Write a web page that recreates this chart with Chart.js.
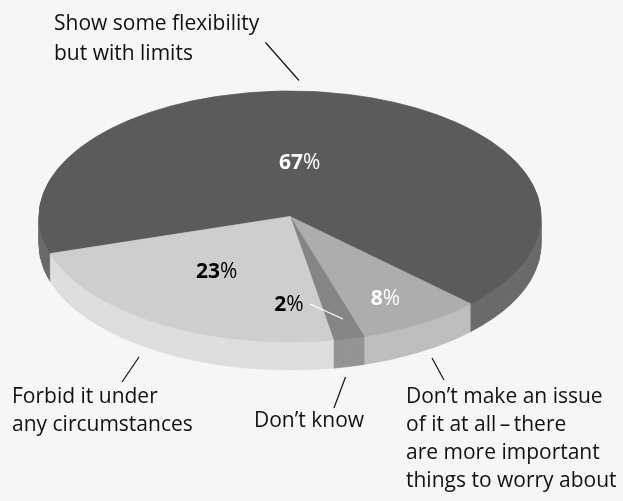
<!DOCTYPE html>
<html>
<head>
<meta charset="utf-8">
<script src="https://cdn.jsdelivr.net/npm/chart.js@4.4.1/dist/chart.umd.min.js"></script>
<style>
  html, body { margin: 0; padding: 0; background: #f6f6f6; }
  #chart { display: block; }
</style>
</head>
<body>
<canvas id="chart" width="623" height="501"></canvas>
<script>
// answers, in the order they are drawn (clockwise)
var answers = [
  'Show some flexibility but with limits',
  'Don’t make an issue of it at all – there are more important things to worry about',
  'Don’t know',
  'Forbid it under any circumstances'
];
var shares = [67, 8, 2, 23];
var topColours = ['#5b5b5b', '#adadad', '#858585', '#cecece'];
var sideColours = ['#6b6b6b', '#bebebe', '#949494', '#dedede'];
var pctColours = ['#ffffff', '#ffffff', '#000000', '#000000'];

// outside captions, one line per entry
var captionLines = [
  ['Show some flexibility', 'but with limits'],
  ['Don’t make an issue', 'of it at all\u2009–\u2009there', 'are more important', 'things to worry about'],
  ['Don’t know'],
  ['Forbid it under', 'any circumstances']
];

// layout bits
var FLATTEN = 0.5;
var DEPTH = 28;
var FONT = '"Open Sans", sans-serif';
// percent label spots, as fractions of the pie radius (x) and flattened radius (y)
var pctSpots = [[0.039, -0.375], [0.380, 0.705], [-0.004, 0.751], [-0.292, 0.492]];
var captionSpots = [[54, 30], [406, 403], [254, 427], [12, 403]];
var captionGap = [29.5, 28, 28, 27.5];
var leaders = [[265.5, 42.5, 299, 80.5], [432, 358, 444, 380], [345.5, 377, 334, 408], [139, 357, 122, 382]];

function squash(ctx, cy) {
  ctx.translate(0, cy);
  ctx.scale(1, FLATTEN);
  ctx.translate(0, -cy);
}

var tiltPlugin = {
  id: 'tilt',
  beforeDatasetsDraw: function(chart) {
    var ctx = chart.ctx;
    var arcs = chart.getDatasetMeta(0).data;
    var cy = arcs[0].y;
    // stack copies of the slices downward to make the rim
    for (var d = DEPTH; d > 0; d--) {
      ctx.save();
      ctx.translate(0, d);
      squash(ctx, cy);
      arcs.forEach(function(arc, i) {
        var side = Object.create(arc);
        side.options = Object.assign({}, arc.options, {
          backgroundColor: sideColours[i],
          borderColor: sideColours[i]
        });
        arc.draw.call(side, ctx);
      });
      ctx.restore();
    }
    ctx.save();
    squash(ctx, cy);
  },
  afterDatasetsDraw: function(chart) {
    var ctx = chart.ctx;
    ctx.restore();

    var arcs = chart.getDatasetMeta(0).data;
    var cx = arcs[0].x, cy = arcs[0].y, r = arcs[0].outerRadius;

    // percentages: bold number, regular %
    ctx.save();
    ctx.textBaseline = 'alphabetic';
    ctx.textAlign = 'left';
    shares.forEach(function(v, i) {
      var num = String(v);
      ctx.font = 'bold 21px ' + FONT;
      var w1 = ctx.measureText(num).width;
      ctx.font = '21px ' + FONT;
      var w2 = ctx.measureText('%').width;
      var x = cx + pctSpots[i][0] * r - (w1 + w2) / 2;
      var y = cy + pctSpots[i][1] * r * FLATTEN;
      ctx.fillStyle = pctColours[i];
      ctx.font = 'bold 21px ' + FONT;
      ctx.fillText(num, x, y);
      ctx.font = '21px ' + FONT;
      ctx.fillText('%', x + w1, y);
    });

    // little white pointer for the 2% slice
    ctx.strokeStyle = '#ffffff';
    ctx.lineWidth = 1.3;
    ctx.beginPath();
    ctx.moveTo(310, 304);
    ctx.lineTo(343, 319);
    ctx.stroke();

    // captions outside the pie
    ctx.fillStyle = '#111111';
    ctx.font = '21px ' + FONT;
    captionLines.forEach(function(lines, i) {
      lines.forEach(function(line, j) {
        ctx.fillText(line, captionSpots[i][0], captionSpots[i][1] + j * captionGap[i]);
      });
    });

    ctx.strokeStyle = '#111111';
    ctx.lineWidth = 1.2;
    leaders.forEach(function(l) {
      ctx.beginPath();
      ctx.moveTo(l[0], l[1]);
      ctx.lineTo(l[2], l[3]);
      ctx.stroke();
    });
    ctx.restore();
  }
};

new Chart(document.getElementById('chart'), {
  type: 'pie',
  data: {
    labels: answers,
    datasets: [{
      data: shares,
      backgroundColor: topColours,
      borderColor: topColours,
      borderWidth: 1,
      rotation: 252.8,
      radius: 251
    }]
  },
  options: {
    responsive: false,
    animation: false,
    events: [],
    rotation: 252.8,
    radius: 251,
    layout: { padding: { left: 39, right: 82, top: 0, bottom: 68 } },
    plugins: {
      legend: { display: false },
      tooltip: { enabled: false }
    }
  },
  plugins: [tiltPlugin]
});
</script>
</body>
</html>
